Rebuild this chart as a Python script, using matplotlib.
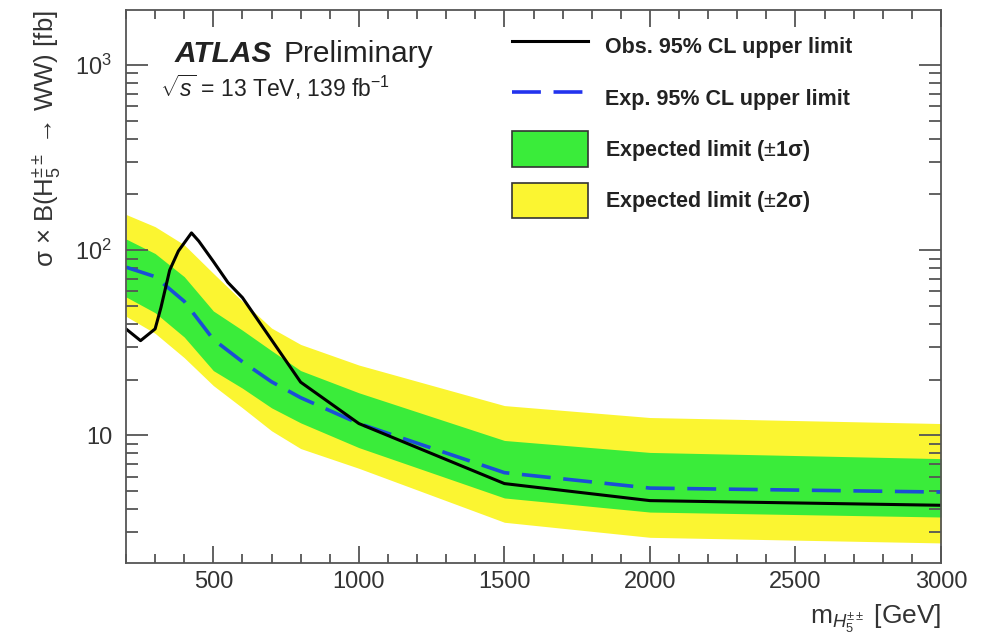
import math
import matplotlib
matplotlib.use("Agg")
import matplotlib.pyplot as plt
import matplotlib.ticker as ticker
from matplotlib.patches import Patch
from matplotlib.lines import Line2D

plt.rcParams['font.family'] = ['Liberation Sans', 'DejaVu Sans']
plt.rcParams['mathtext.fontset'] = 'custom'
plt.rcParams['mathtext.rm'] = 'Liberation Sans'
plt.rcParams['mathtext.it'] = 'Liberation Sans:italic'
plt.rcParams['mathtext.bf'] = 'Liberation Sans:bold'

# expected limit and bands (fb)
mass_exp = [200, 300, 400, 500, 600, 700, 800, 1000, 1500, 2000, 3000]
exp_med = [81, 72, 53, 33, 25, 19.5, 16, 11.6, 6.3, 5.2, 4.95]
exp_p1 = [115, 96, 72, 47, 37, 28.7, 22.4, 17, 9.4, 8.1, 7.5]
exp_m1 = [56, 46, 34, 22.4, 18, 14.1, 11.7, 8.6, 4.6, 3.86, 3.63]
exp_p2 = [156, 134, 107, 75, 53, 38, 31, 24, 14.5, 12.5, 11.6]
exp_m2 = [44, 35.6, 26.3, 18.6, 14.1, 10.6, 8.5, 6.65, 3.4, 2.82, 2.63]

# observed limit
mass_obs = [200, 250, 300, 320, 350, 380, 425, 450, 500, 550, 600, 800, 1000, 1500, 2000, 3000]
obs = [37.6, 32.5, 37.6, 49, 78, 99, 124, 112, 87, 67, 55.5, 19.4, 11.6, 5.5, 4.45, 4.2]

green = '#3aec3a'
yellow = '#fbf531'
blue = '#1a4fd6'

fig = plt.figure(figsize=(9.89, 6.37), dpi=100)
ax = fig.add_axes([0.1274, 0.1162, 0.8241, 0.8681])

ax.fill_between(mass_exp, exp_m2, exp_p2, color=yellow, lw=0)
ax.fill_between(mass_exp, exp_m1, exp_p1, color=green, lw=0)
ax.plot(mass_exp, exp_med, color=blue, lw=2.6, dashes=(8, 3.5))
ax.plot(mass_obs, obs, color='black', lw=2.2)

ax.set_yscale('log')
ax.set_xlim(200, 3000)
ax.set_ylim(2.05, 1980)

ax.xaxis.set_major_locator(ticker.MultipleLocator(500))
ax.xaxis.set_minor_locator(ticker.MultipleLocator(100))
ax.yaxis.set_major_locator(ticker.LogLocator(base=10))
ax.yaxis.set_minor_locator(ticker.LogLocator(base=10, subs=range(2, 10)))
ax.yaxis.set_minor_formatter(ticker.NullFormatter())


def yfmt(v, pos):
    if abs(v - 10) < 1e-6:
        return '10'
    return r'$10^{%d}$' % int(round(math.log10(v)))


ax.yaxis.set_major_formatter(ticker.FuncFormatter(yfmt))

for s in ax.spines.values():
    s.set_color('#555555')
    s.set_linewidth(1.3)
ax.tick_params(which='both', direction='in', top=True, right=True, colors='#555555', width=1.3,
               labelcolor='#333333', labelsize=17)
ax.tick_params(axis='y', which='major', length=16, pad=10)
ax.tick_params(axis='y', which='minor', length=8.5)
ax.tick_params(axis='x', which='major', length=12, pad=6)
ax.tick_params(axis='x', which='minor', length=6.5)

ax.set_ylabel(r'σ × B(H$_5^{\pm\pm}$ → WW) [fb]', fontsize=18.5, color='#333333', ha='right', y=1.0)
ax.yaxis.set_label_coords(-0.078, 1.0)
ax.set_xlabel(r'm$_{H_5^{\pm\pm}}$ [GeV]', fontsize=19, color='#333333', ha='right', x=1.0)
ax.xaxis.set_label_coords(1.0, -0.072)

t = ax.text(0.060, 0.906, 'ATLAS', transform=ax.transAxes, fontsize=21.5, fontweight='bold',
            fontstyle='italic', va='baseline', color='#222222')
ax.annotate('Preliminary', xy=(1, 0), xycoords=t, xytext=(8, 0), textcoords='offset points',
            fontsize=21.5, va='bottom', color='#222222')
ax.text(0.042, 0.843, r'$\sqrt{s}$ = 13 TeV, 139 fb$^{-1}$', transform=ax.transAxes,
        fontsize=16.5, va='baseline', color='#222222')

handles = [
    Line2D([], [], color='black', lw=2.2),
    Line2D([], [], color='#2233ee', lw=2.6, dashes=(8, 3.5)),
    Patch(facecolor=green, edgecolor='#333333', lw=1.2),
    Patch(facecolor=yellow, edgecolor='#333333', lw=1.2),
]
labels = ['Obs. 95% CL upper limit', 'Exp. 95% CL upper limit',
          r'Expected limit ($\pm$1σ)', r'Expected limit ($\pm$2σ)']
leg = ax.legend(handles, labels, loc='upper left', bbox_to_anchor=(0.4736, 0.966),
                frameon=False, borderpad=0, borderaxespad=0, handlelength=3.55,
                handleheight=2.15, labelspacing=0.74, handletextpad=0.78,
                prop={'weight': 'bold', 'size': 15.5})
for txt in leg.get_texts():
    txt.set_color('#222222')

fig.savefig('out.png', dpi=100)
